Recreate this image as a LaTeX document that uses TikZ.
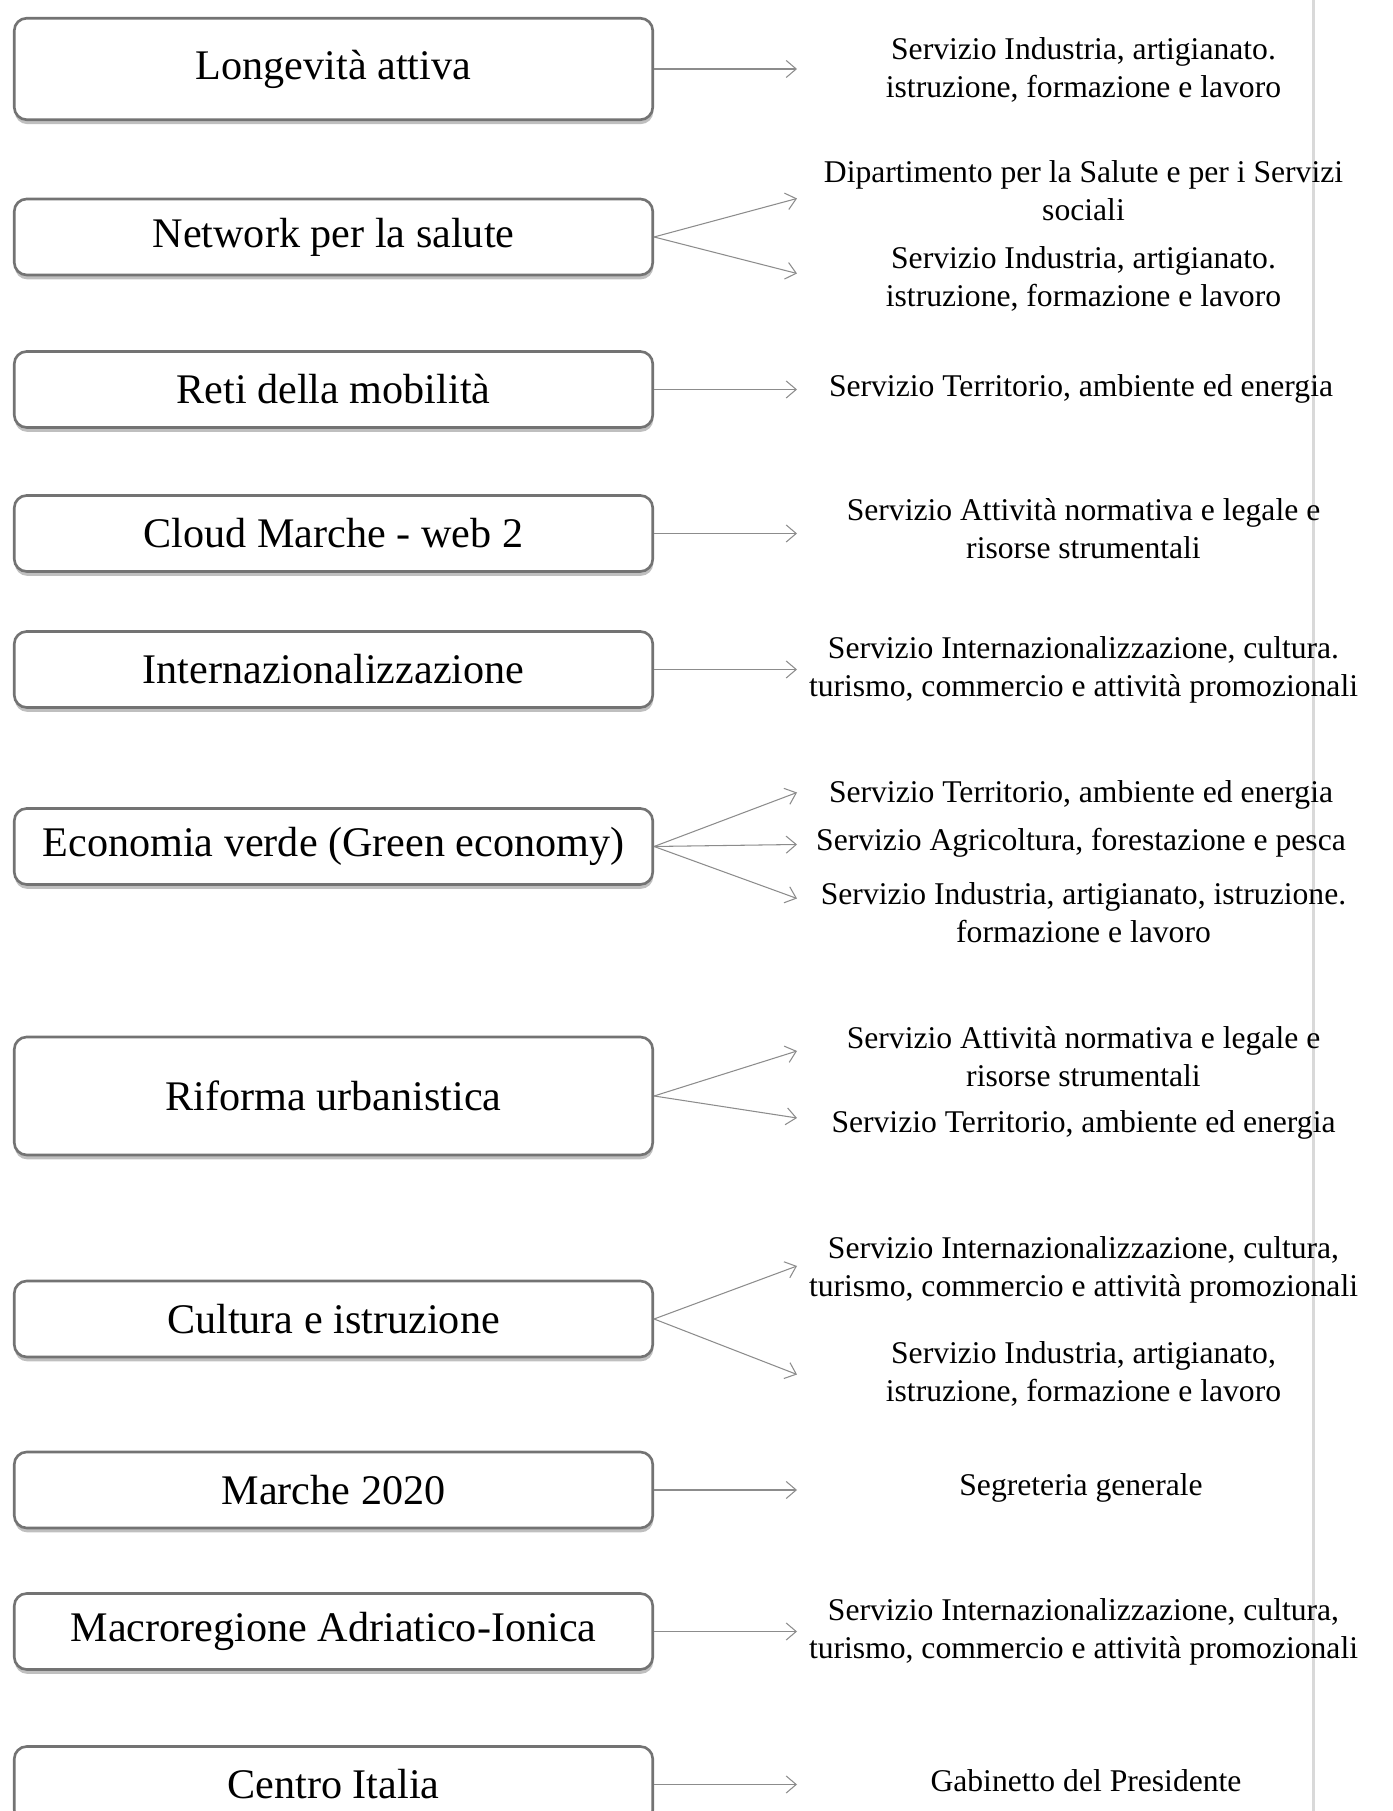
\documentclass[tikz,border=0pt]{standalone}
\usepackage{fontspec}
\setmainfont{Liberation Serif}
\usetikzlibrary{arrows.meta,shadows}
\tikzset{
	progetto/.style={draw=black!55, line width=1.5pt, rounded corners=0.25cm, fill=white, minimum width=12.77cm, minimum height=1.52cm, font=\fontsize{24}{29}\selectfont, drop shadow={shadow xshift=0.3pt, shadow yshift=-2.5pt, opacity=0.5}},
	servizio/.style={align=center, inner sep=0pt, font=\fontsize{18}{21.6}\selectfont},
	freccia/.style={draw=black!45, line width=0.6pt, -{Straight Barb[length=2mm, width=3.4mm]}}
}

\begin{document}
\begin{tikzpicture}
			%%%%% START %%%%%
			
			\useasboundingbox (0, 0) rectangle (27.86, 36.22);
			\clip (0, 0) rectangle (27.86, 36.22);
			
			\draw[line width=1.2pt, color=black!15] (26.27, 0) -- (26.27, 36.22);
			
			\node[progetto, minimum height=2.03cm] (p1) at (6.67, 34.84) {Longevità attiva};
			\node[progetto] (p2) at (6.67, 31.48) {Network per la salute};
			\node[progetto] (p3) at (6.67, 28.43) {Reti della mobilità};
			\node[progetto] (p4) at (6.67, 25.55) {Cloud Marche - web 2};
			\node[progetto] (p5) at (6.67, 22.83) {Internazionalizzazione};
			\node[progetto] (p6) at (6.67, 19.29) {Economia verde (Green economy)};
			\node[progetto, minimum height=2.36cm] (p7) at (6.67, 14.30) {Riforma urbanistica};
			\node[progetto] (p8) at (6.67, 9.84) {Cultura e istruzione};
			\node[progetto] (p9) at (6.67, 6.42) {Marche 2020};
			\node[progetto] (p10) at (6.67, 3.59) {Macroregione Adriatico-Ionica};
			\node[progetto] (p11) at (6.67, 0.53) {Centro Italia};
			
			\node[servizio] (s1) at (21.67, 34.83) {Servizio Industria, artigianato.\\istruzione, formazione e lavoro};
			\node[servizio] (s2a) at (21.67, 32.40) {Dipartimento per la Salute e per i Servizi\\sociali};
			\node[servizio] (s2b) at (21.67, 30.65) {Servizio Industria, artigianato.\\istruzione, formazione e lavoro};
			\node[servizio] (s3) at (21.62, 28.44) {Servizio Territorio, ambiente ed energia};
			\node[servizio] (s4) at (21.67, 25.64) {Servizio Attività normativa e legale e\\risorse strumentali};
			\node[servizio] (s5) at (21.67, 22.82) {Servizio Internazionalizzazione, cultura.\\turismo, commercio e attività promozionali};
			\node[servizio] (s6a) at (21.62, 20.33) {Servizio Territorio, ambiente ed energia};
			\node[servizio] (s6b) at (21.62, 19.36) {Servizio Agricoltura, forestazione e pesca};
			\node[servizio] (s6c) at (21.67, 17.97) {Servizio Industria, artigianato, istruzione.\\formazione e lavoro};
			\node[servizio] (s7a) at (21.67, 15.08) {Servizio Attività normativa e legale e\\risorse strumentali};
			\node[servizio] (s7b) at (21.67, 13.72) {Servizio Territorio, ambiente ed energia};
			\node[servizio] (s8a) at (21.67, 10.83) {Servizio Internazionalizzazione, cultura,\\turismo, commercio e attività promozionali};
			\node[servizio] (s8b) at (21.67, 8.74) {Servizio Industria, artigianato,\\istruzione, formazione e lavoro};
			\node[servizio] (s9) at (21.62, 6.47) {Segreteria generale};
			\node[servizio] (s10) at (21.67, 3.58) {Servizio Internazionalizzazione, cultura,\\turismo, commercio e attività promozionali};
			\node[servizio] (s11) at (21.72, 0.60) {Gabinetto del Presidente};
			
			% punte delle frecce
			\coordinate (punte) at (15.94, 0);
			\coordinate (f2a) at (15.94, 32.25);
			\coordinate (f2b) at (15.94, 30.75);
			\coordinate (f6a) at (15.94, 20.37);
			\coordinate (f6b) at (15.94, 19.33);
			\coordinate (f6c) at (15.94, 18.25);
			\coordinate (f7a) at (15.94, 15.20);
			\coordinate (f7b) at (15.94, 13.86);
			\coordinate (f8a) at (15.94, 10.90);
			\coordinate (f8b) at (15.94, 8.73);
			
			\draw[freccia] (p1.east) -- (p1.east -| punte);
			\draw[freccia] (p2.east) -- (f2a);
			\draw[freccia] (p2.east) -- (f2b);
			\draw[freccia] (p3.east) -- (p3.east -| punte);
			\draw[freccia] (p4.east) -- (p4.east -| punte);
			\draw[freccia] (p5.east) -- (p5.east -| punte);
			\draw[freccia] (p6.east) -- (f6a);
			\draw[freccia] (p6.east) -- (f6b);
			\draw[freccia] (p6.east) -- (f6c);
			\draw[freccia] (p7.east) -- (f7a);
			\draw[freccia] (p7.east) -- (f7b);
			\draw[freccia] (p8.east) -- (f8a);
			\draw[freccia] (p8.east) -- (f8b);
			\draw[freccia] (p9.east) -- (p9.east -| punte);
			\draw[freccia] (p10.east) -- (p10.east -| punte);
			\draw[freccia] (p11.east) -- (p11.east -| punte);
			
			%%%%% END %%%%%
\end{tikzpicture}
\end{document}
